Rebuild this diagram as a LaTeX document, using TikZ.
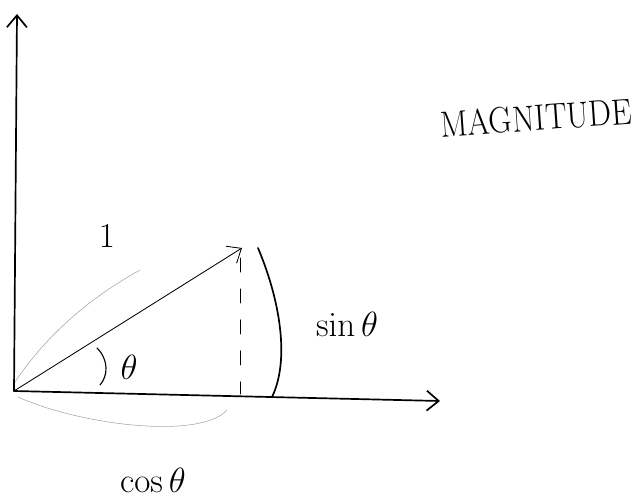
\documentclass[tikz,border=0pt]{standalone}
\usepackage{amsmath}
\usepackage{amssymb}
\usetikzlibrary{arrows.meta}

\begin{document}
\begin{tikzpicture}[x=0.025cm, y=-0.025cm, line cap=round,
        >={Straight Barb[length=3mm, width=5mm]}]
                \useasboundingbox (0,0) rectangle (636,503);
                \coordinate (O) at (14,391);
                \coordinate (X) at (440,401);
                \coordinate (Y) at (17,14);
                \coordinate (P) at (242,248);
                \coordinate (Ptop) at (240,258);
                \coordinate (F) at (240,394);
                
                % axes and unit vector
                \draw[very thick, ->] (O) -- (Y);
                \draw[very thick, ->] (O) -- (X);
                \draw[semithick, ->] (O) -- (P);
                \draw[semithick, dash pattern=on 10pt off 12pt] (Ptop) -- (F);
                
                % sin bracket
                \draw[very thick] (258,248) .. controls (280,300) and (290,360) .. (272,397);
                % faint marks along the vector and under the axis
                \draw[gray!70, thin] (15,382) .. controls (50,330) and (95,295) .. (140,270);
                \draw[gray!70, thin] (18,397) .. controls (80,425) and (200,440) .. (227,410);
                % angle
                \draw[thick] (97,348) .. controls (109,360) and (108,376) .. (100,385);
                
                \node (one) at (107,236) {\Huge $1$};
                \node (theta) at (129,367) {\Huge $\theta$};
                \node (sin) at (347,324) {\Huge $\sin\theta$};
                \node (cos) at (153,480) {\Huge $\cos\theta$};
                \node[rotate=4] (mag) at (536,118) {\scalebox{0.88}[1]{\fontsize{26}{28}\selectfont MAGNITUDE}};
            \end{tikzpicture}
\end{document}
